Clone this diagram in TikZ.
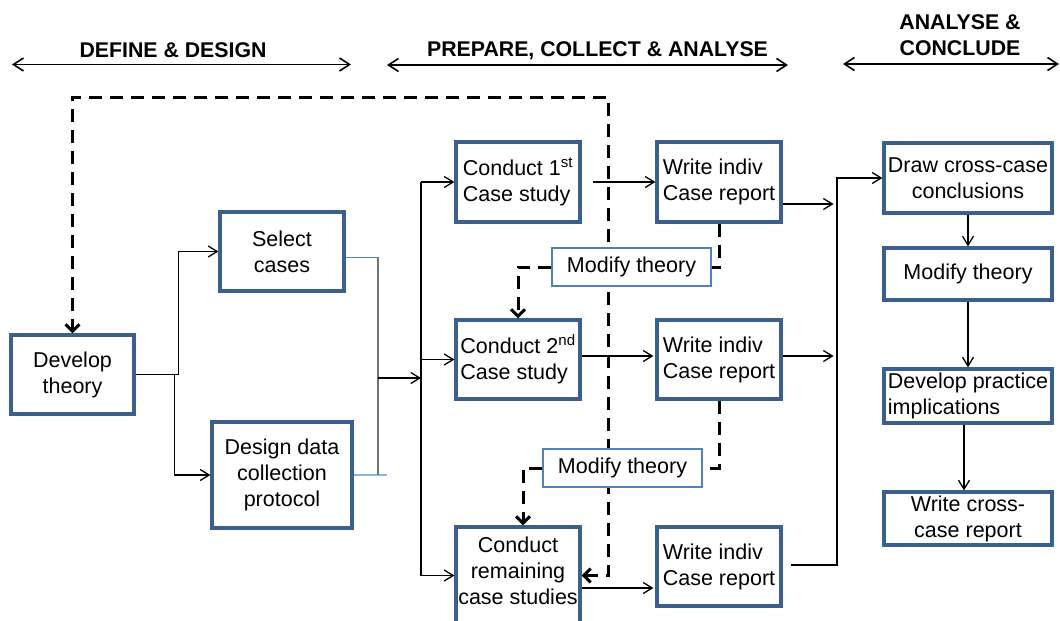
\documentclass[tikz,border=0pt]{standalone}
\usepackage{fontspec}
\setmainfont{Liberation Sans}
\usetikzlibrary{arrows.meta,calc}
\pgfdeclarelayer{bg}
\pgfsetlayers{bg,main}
\definecolor{boxblue}{HTML}{3B5F8E}
\definecolor{lineblue}{HTML}{4F81BD}
\definecolor{paleblue}{HTML}{8DB3E2}
\tikzset{
  box/.style={draw=boxblue, line width=3.2pt, fill=white, inner sep=0pt,
    font=\fontsize{21.5pt}{26pt}\selectfont, align=center},
  modbox/.style={draw=lineblue, line width=1.3pt, fill=white, inner sep=0pt,
    font=\fontsize{21.5pt}{26pt}\selectfont, minimum width=159pt, minimum height=38pt},
  hdr/.style={font=\fontsize{21.3pt}{26pt}\selectfont\bfseries, inner sep=0pt, align=center},
  hdrarrow/.style={line width=1.6pt,
    {Straight Barb[length=10pt,width=13pt]}-{Straight Barb[length=10pt,width=13pt]}},
  flow/.style={line width=1.3pt, -{Straight Barb[length=9pt,width=11pt]}},
  plainline/.style={line width=1.3pt},
  dashline/.style={line width=3pt, dash pattern=on 13pt off 8pt},
  dashflow/.style={dashline, -{Straight Barb[length=7pt,width=14pt]}},
}
\begin{document}
\begin{tikzpicture}[x=1pt, y=-1pt]
\useasboundingbox (0,0) rectangle (1060,621);

% phase headers
\node[hdr, anchor=base] (hdefine) at (173,57) {DEFINE \& DESIGN};
\node[hdr, anchor=base] (hprepare) at (597.5,56) {PREPARE, COLLECT \& ANALYSE};
\node[hdr] (hanalyse) at (960,35) {ANALYSE \&\\CONCLUDE};
\coordinate (h1l) at (12,64.5);  \coordinate (h1r) at (351,64.5);
\coordinate (h2l) at (387,65);   \coordinate (h2r) at (788,65);
\coordinate (h3l) at (843,64);   \coordinate (h3r) at (1059,64);
\draw[hdrarrow] (h1l) -- (h1r);
\draw[hdrarrow] (h2l) -- (h2r);
\draw[hdrarrow] (h3l) -- (h3r);

% define & design
\node[box, minimum width=123pt, minimum height=79pt] (dev) at (72.5,374.5) {Develop\\theory};
\node[box, minimum width=124pt, minimum height=79pt] (sel) at (282,251.5) {Select\\cases};
\node[box, minimum width=140pt, minimum height=106pt] (des) at (282,475) {Design data\\collection\\protocol};

% individual cases
\node[box, align=left, minimum width=124pt, minimum height=80pt] (c1) at (518,182) {Conduct 1\textsuperscript{st}\\Case study};
\node[box, align=left, minimum width=124pt, minimum height=80pt] (w1) at (719,182) {Write indiv\\Case report};
\node[box, align=left, minimum width=124pt, minimum height=79pt] (c2) at (518,359.5) {Conduct 2\textsuperscript{nd}\\Case study};
\node[box, align=left, minimum width=124pt, minimum height=79pt] (w2) at (719,359.5) {Write indiv\\Case report};
\node[box, minimum width=124pt, minimum height=97pt, text depth=9pt] (c3) at (518,575.5) {Conduct\\remaining\\case studies};
\node[box, align=left, minimum width=124pt, minimum height=79pt] (w3) at (719,566.5) {Write indiv\\Case report};
\node[modbox] (m1) at (631.5,267) {Modify theory};
\node[modbox] (m2) at (622.5,468) {Modify theory};

% cross-case analysis
\node[box, minimum width=168pt, minimum height=70pt] (dcc) at (968,178) {Draw cross-case\\conclusions};
\node[box, minimum width=168pt, minimum height=52pt] (mt) at (968,274) {Modify theory};
\node[box, align=left, minimum width=168pt, minimum height=54pt] (dpi) at (968,396) {Develop practice\\implications};
\node[box, minimum width=168pt, minimum height=53pt] (wcc) at (968,518.5) {Write cross-\\case report};

% theory feeds case selection and protocol design
\draw[flow] (dev.east) -- ++(43,0) |- (sel.west);
\draw[flow] ($(dev.east)+(39,0)$) |- (des.west);

% merge into the case studies
\coordinate (jtop) at (378,257);
\coordinate (jmid) at (378,378);
\coordinate (jbot) at (378,475);
\coordinate (jend) at (387,475);
\coordinate (bx) at (421,378);
\draw[line width=1pt, draw=lineblue] ($(sel.east)+(0,5.5)$) -- (jtop);
\draw[line width=1.3pt, draw=paleblue] (des.east) -- (jend);
\draw[line width=1.2pt, draw=black!55] (jtop) -- (jbot);
\draw[flow] (jmid) -- (bx);
\draw[plainline] (bx |- c1.west) -- (bx |- c3.west);
\draw[flow] (bx |- c1.west) -- (c1.west);
\draw[flow] (bx |- c2.west) -- (c2.west);
\draw[flow] (bx |- c3.west) -- (c3.west);

% case study to case report
\draw[flow] ($(c1.east)+(11,0)$) -- (w1.west);
\draw[flow] ($(c2.east)+(0,-3.5)$) -- ($(w2.west)+(-2,-3.5)$);
\draw[flow] ($(c3.east)+(0,12.5)$) -- ($(w3.west)+(-2,21.5)$);

% case reports to cross-case conclusions
\coordinate (rbot) at (837,565);
\draw[flow] ($(w1.east)+(0,22)$) -- ($(w1.east)+(51,22)$);
\draw[flow] ($(w2.east)+(0,-3.5)$) -- ($(w2.east)+(51,-3.5)$);
\draw[flow] ($(w3.east)+(8,-1.5)$) -- (rbot) -- (rbot |- dcc.west) -- (dcc.west);

% cross-case chain
\draw[flow] (dcc.south) -- (mt.north);
\draw[flow] (mt.south) -- (dpi.north);
\draw[flow] ($(dpi.south)+(-4,0)$) -- ($(wcc.north)+(-4,0)$);

% theory modification loops
\draw[dashline] (w1.south) |- (m1.east);
\draw[dashflow] (m1.west) -| (c2.north);
\draw[dashline] (w2.south) |- (m2.east);
\draw[dashflow] (m2.west) -| ($(c3.north)+(5,0)$);

% overall feedback loop, behind the boxes
\coordinate (loopc) at (72.5,97);
\begin{pgfonlayer}{bg}
\draw[dashline, {Straight Barb[length=7pt,width=14pt]}-{Straight Barb[length=7pt,width=14pt]}]
  (c3.east) -- ++(27,0) |- (loopc) -- (dev.north);
\end{pgfonlayer}
\end{tikzpicture}
\end{document}
